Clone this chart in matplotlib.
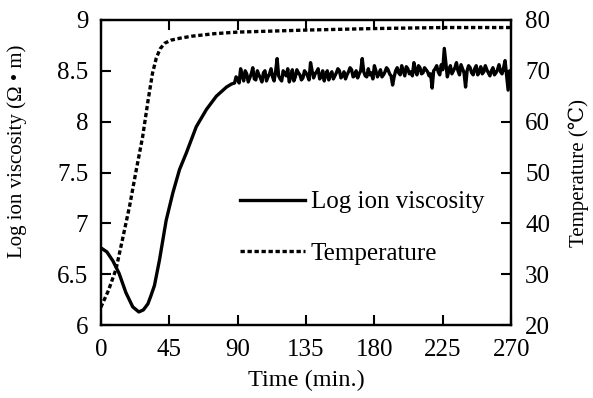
import numpy as np
import matplotlib
matplotlib.use("Agg")
import matplotlib.pyplot as plt

plt.rcParams['font.family'] = ['Liberation Serif', 'DejaVu Serif']

# smooth part of log ion viscosity
visc_t = [0, 4, 8, 12, 16.5, 21, 25, 28, 31, 33, 35.3, 38.6, 43, 47.4, 51.8,
          56.2, 62.8, 69.5, 76, 82.7, 86]
visc_v = [6.76, 6.72, 6.63, 6.51, 6.32, 6.18, 6.13, 6.15, 6.21, 6.29, 6.39,
          6.64, 7.03, 7.30, 7.53, 7.69, 7.95, 8.12, 8.25, 8.34, 8.37]

# noisy plateau, readings at even minutes 88..270
even_t = np.arange(88, 271, 2)
even_v = [8.38, 8.42, 8.52, 8.40, 8.47, 8.43, 8.53, 8.41, 8.46, 8.39,
          8.50, 8.44, 8.52, 8.40, 8.62, 8.42, 8.50, 8.45, 8.39, 8.51,
          8.44, 8.48, 8.41, 8.50, 8.45, 8.58, 8.43, 8.49, 8.42, 8.50,
          8.46, 8.41, 8.49, 8.45, 8.52, 8.43, 8.49, 8.46, 8.53, 8.44,
          8.50, 8.47, 8.62, 8.45, 8.52, 8.48, 8.55, 8.44, 8.51, 8.46,
          8.53, 8.47, 8.36, 8.50, 8.48, 8.55, 8.45, 8.52, 8.49, 8.58,
          8.46, 8.53, 8.48, 8.51, 8.45, 8.33, 8.52, 8.49, 8.56, 8.72,
          8.44, 8.55, 8.50, 8.58, 8.46, 8.52, 8.34, 8.55, 8.48, 8.52,
          8.46, 8.54, 8.49, 8.51, 8.45, 8.53, 8.48, 8.56, 8.47, 8.60,
          8.31, 8.46]
# and at odd minutes 89..269
odd_t = np.arange(89, 270, 2)
odd_v = [8.44, 8.38, 8.45, 8.50, 8.39, 8.47, 8.42, 8.50, 8.43, 8.48,
         8.40, 8.47, 8.44, 8.49, 8.45, 8.40, 8.47, 8.52, 8.44, 8.40,
         8.51, 8.46, 8.43, 8.48, 8.41, 8.50, 8.47, 8.52, 8.44, 8.40,
         8.50, 8.46, 8.42, 8.48, 8.50, 8.45, 8.42, 8.49, 8.51, 8.45,
         8.43, 8.50, 8.49, 8.44, 8.46, 8.42, 8.50, 8.47, 8.44, 8.49,
         8.51, 8.45, 8.44, 8.53, 8.46, 8.50, 8.54, 8.47, 8.45, 8.50,
         8.55, 8.47, 8.53, 8.49, 8.47, 8.50, 8.55, 8.46, 8.51, 8.58,
         8.50, 8.47, 8.53, 8.50, 8.56, 8.48, 8.50, 8.53, 8.46, 8.55,
         8.49, 8.47, 8.55, 8.48, 8.50, 8.46, 8.51, 8.49, 8.53, 8.45,
         8.50]

# temperature
temp_t = [0, 5, 10, 14, 19, 23, 27.5, 31, 34, 36.5, 39, 42, 46, 52, 60, 75,
          90, 135, 180, 225, 270]
temp_v = [23.5, 26.8, 31, 36.5, 43.5, 50, 57, 64, 69.5, 72.5, 74.3, 75.4,
          76.0, 76.4, 76.8, 77.3, 77.6, 78.0, 78.3, 78.5, 78.5]

plat_t = np.concatenate([even_t, odd_t])
plat_v = np.concatenate([even_v, odd_v])
order = np.argsort(plat_t)
time = np.concatenate([visc_t, plat_t[order]])
visc = np.concatenate([visc_v, plat_v[order]])

fig = plt.figure(figsize=(5.93, 3.98), dpi=100)
ax = fig.add_axes([0.170, 0.183, 0.692, 0.767])
ax2 = ax.twinx()

l1, = ax.plot(time, visc, color='black', lw=2.4)
l2, = ax2.plot(temp_t, temp_v, color='black', lw=2.4, linestyle=(0, (1.3, 0.8)))

ax.set_xlim(0, 270)
ax.set_ylim(6, 9)
ax2.set_ylim(20, 80)
ax.set_xticks(np.arange(0, 271, 45))
ax.set_yticks([6, 6.5, 7, 7.5, 8, 8.5, 9])
ax.set_yticklabels(['6', '6.5', '7', '7.5', '8', '8.5', '9'])
ax2.set_yticks(np.arange(20, 81, 10))

ax.tick_params(axis='x', direction='in', top=True, length=7, width=1.5,
               labelsize=18, pad=10)
ax.tick_params(axis='y', direction='in', length=7, width=1.5, labelsize=18, pad=9)
ax2.tick_params(axis='y', direction='in', length=7, width=1.5, labelsize=18, pad=10)
for a in (ax, ax2):
    for s in a.spines.values():
        s.set_linewidth(1.6)

ax.set_xlabel('Time (min.)', fontsize=17.5, labelpad=6)
ax.set_ylabel('Log ion viscosity (Ω • m)', fontsize=15)
ax.yaxis.set_label_coords(-0.18, 0.57)
ax2.set_ylabel('Temperature (℃)', fontsize=15, labelpad=13)

ax.legend([l1, l2], ['Log ion viscosity', 'Temperature'], frameon=False,
          fontsize=18, handlelength=2.6, handletextpad=0.25, labelspacing=1.16,
          loc='upper left', bbox_to_anchor=(0.308, 0.481), borderpad=0)

fig.savefig('out.png', dpi=100)
